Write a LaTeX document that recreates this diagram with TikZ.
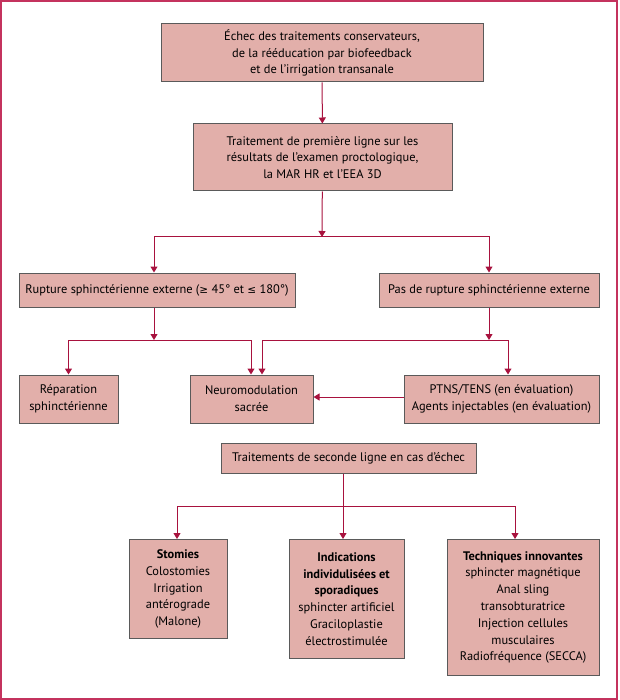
\documentclass[tikz,border=0pt]{standalone}
\usepackage{fontspec}
\setmainfont{PT Sans}
\newfontfamily\symfont{DejaVu Sans}[Scale=0.85]
\usetikzlibrary{positioning,arrows.meta,calc}
\definecolor{boxFill}{HTML}{E2AFAA}
\definecolor{boxLine}{HTML}{5A5A5A}
\definecolor{arrowRed}{HTML}{A8123E}
\definecolor{frameRed}{HTML}{C4335E}
\tikzset{
  box/.style={draw=boxLine, line width=1pt, fill=boxFill, align=center, inner sep=2pt,
              font=\fontsize{12.4}{16.8}\selectfont},
  flow/.style={-{Triangle[length=6pt,width=7pt]}, line width=1pt, arrowRed},
  frame/.style={draw=frameRed, line width=2pt},
}

\begin{document}
\begin{tikzpicture}[x=1pt,y=-1pt]
    \useasboundingbox (0,0) rectangle (619,700);
    \draw[frame] (1,1) rectangle (617,699);
    % first line
    \node[box, minimum width=322pt, minimum height=58pt] (first) at (322,53)
      {Échec des traitements conservateurs,\\de la rééducation par biofeedback\\et de l’irrigation transanale};
    \node[box, minimum width=259pt, minimum height=67pt] (second) at (322.5,157.5)
      {Traitement de première ligne sur les\\résultats de l’examen proctologique,\\la MAR HR et l’EEA 3D};
    \node[box, minimum width=276pt, minimum height=34pt] (rupt) at (157,290)
      {Rupture sphinctérienne externe ({\symfont ≥} 45° et {\symfont ≤} 180°)};
    \node[box, minimum width=220pt, minimum height=34pt] (norupt) at (489,290)
      {Pas de rupture sphinctérienne externe};
    \node[box, minimum width=99pt, minimum height=48pt] (repar) at (68.5,399)
      {Réparation\\sphinctérienne};
    \node[box, minimum width=123pt, minimum height=48pt] (neuro) at (251.5,399)
      {Neuromodulation\\sacrée};
    \node[box, minimum width=195pt, minimum height=48pt] (ptns) at (501.5,399)
      {PTNS/TENS (en évaluation)\\Agents injectables (en évaluation)};
    % second line
    \node[box, minimum width=255pt, minimum height=30pt] (seconde) at (348.5,458)
      {Traitements de seconde ligne en cas d’échec};
    \node[box, minimum width=98pt, minimum height=99pt, anchor=north] (stom) at (178,539)
      {\textbf{Stomies}\\Colostomies\\Irrigation\\antérograde\\(Malone)};
    \node[box, minimum width=115pt, minimum height=119pt, anchor=north] (indic) at (346.5,539)
      {\textbf{Indications}\\\textbf{individulisées et}\\\textbf{sporadiques}\\sphincter artificiel\\Graciloplastie\\électrostimulée};
    \node[box, minimum width=152pt, minimum height=136pt, anchor=north] (techn) at (523,539)
      {\textbf{Techniques innovantes}\\sphincter magnétique\\Anal sling\\transobturatrice\\Injection cellules\\musculaires\\Radiofréquence (SECCA)};

    \coordinate (sp1) at (322,237);
    \coordinate (sp2) at (154,340);
    \coordinate (sp3) at (489,340);
    \coordinate (sp4) at (343,506);

    \draw[flow] (first) -- (second);
    \draw[flow] (second) -- (sp1);
    \draw[flow] (sp1) -| ([xshift=-3pt]rupt.north);
    \draw[flow] (sp1) -| (norupt.north);
    \draw[flow] (rupt.south -| sp2) -- (sp2);
    \draw[flow] (sp2) -| (repar.north);
    \draw[flow] (sp2) -| ([xshift=-0.5pt]neuro.north);
    \draw[flow] (norupt) -- (sp3);
    \draw[flow] (sp3) -| ([xshift=10.5pt]neuro.north);
    \draw[flow] (sp3) -| ([xshift=6.5pt]ptns.north);
    \draw[flow] (ptns.west |- 0,397) -- (neuro.east |- 0,397);
    \draw[flow] (seconde.south -| sp4) -- (indic.north -| sp4);
    \draw[flow] (sp4) -| ([xshift=-1pt]stom.north);
    \draw[flow] (sp4) -| ([xshift=-8pt]techn.north);
  \end{tikzpicture}
\end{document}
